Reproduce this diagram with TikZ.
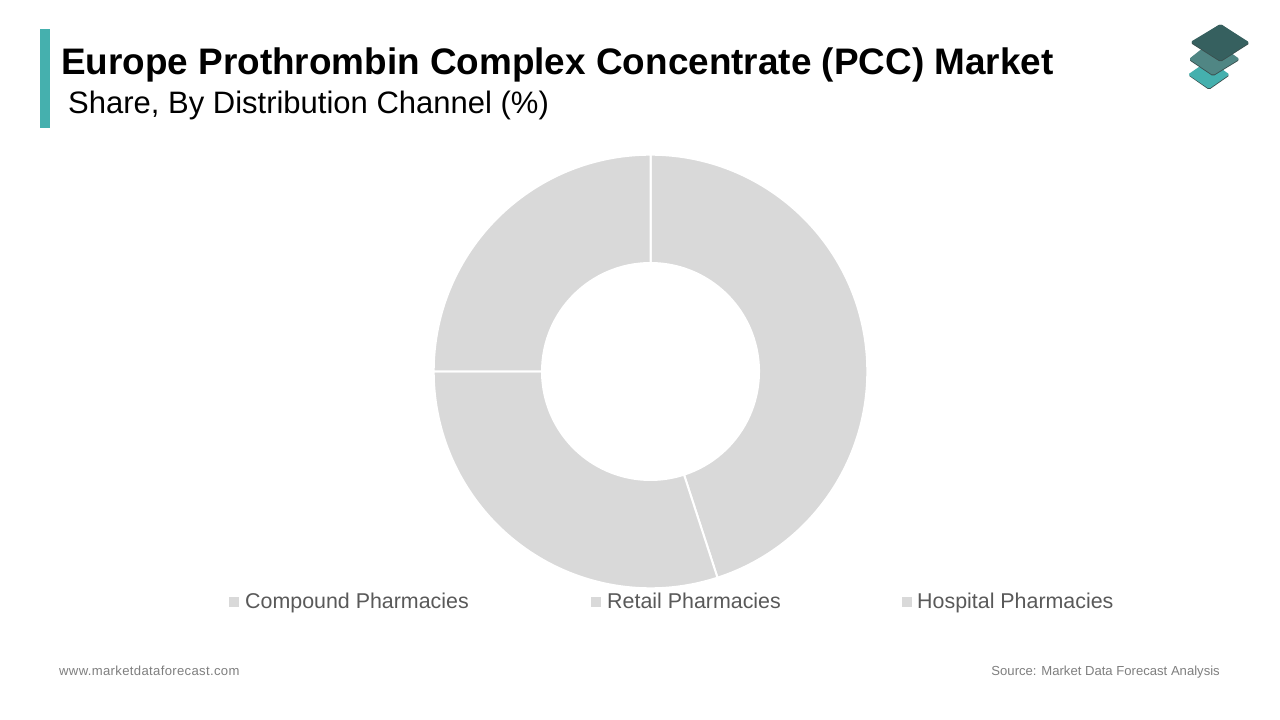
\documentclass[tikz,border=0pt]{standalone}
\usepackage{fontspec}
\setmainfont{Liberation Sans}
\definecolor{slice}{HTML}{D9D9D9}
\definecolor{teal}{HTML}{45B0AE}
\definecolor{tealmid}{HTML}{508684}
\definecolor{tealdark}{HTML}{36605F}
\definecolor{edgedark}{HTML}{3A4F4E}
\definecolor{legendtext}{HTML}{595959}
\definecolor{foottext}{HTML}{7F7F7F}
\tikzset{
  slicefill/.style={fill=slice,draw=white,line width=2pt,line join=miter},
  legendlabel/.style={anchor=base west,inner sep=0pt,text=legendtext,font=\fontsize{21.4}{24}\selectfont},
  legendkey/.style={fill=slice,draw=none,minimum size=10pt,inner sep=0pt},
  foot/.style={inner sep=0pt,text=foottext,font=\fontsize{13.1}{15}\selectfont},
  layer/.style={rounded corners=1.5pt,draw=none},
}
\begin{document}
\begin{tikzpicture}[x=1pt,y=1pt]
\useasboundingbox (0,0) rectangle (1280,720);
\fill[white] (0,0) rectangle (1280,720);
% accent bar
\fill[teal] (40,592) rectangle (50,691);
% titles
\node[anchor=base west,inner sep=0pt,font=\fontsize{36.9}{40}\bfseries\selectfont] (title) at (61,645.5) {Europe Prothrombin Complex Concentrate (PCC) Market};
\node[anchor=base west,inner sep=0pt,font=\fontsize{31}{34}\selectfont] (subtitle) at (68,606) {Share, By Distribution Channel (\%)};
% donut
\begin{scope}[shift={(650.5,348.5)}]
\fill[slicefill] (90:216.8) arc[start angle=90,end angle=-72,radius=216.8] -- (-72:108.5) arc[start angle=-72,end angle=90,radius=108.5] -- cycle;
\fill[slicefill] (-72:216.8) arc[start angle=-72,end angle=-180,radius=216.8] -- (-180:108.5) arc[start angle=-180,end angle=-72,radius=108.5] -- cycle;
\fill[slicefill] (180:216.8) arc[start angle=180,end angle=90,radius=216.8] -- (90:108.5) arc[start angle=90,end angle=180,radius=108.5] -- cycle;
\end{scope}
% legend
\node[legendkey] (k1) at (234,118) {};
\node[legendlabel] (l1) at (245,111.5) {Compound Pharmacies};
\node[legendkey] (k2) at (596,118) {};
\node[legendlabel] (l2) at (607,111.5) {Retail Pharmacies};
\node[legendkey] (k3) at (907,118) {};
\node[legendlabel] (l3) at (917,111.5) {Hospital Pharmacies};
% footer
\node[foot,anchor=base west,font=\fontsize{13.1}{15}\addfontfeature{LetterSpace=2.6}] (fl) at (59,44.5) {www.marketdataforecast.com};
\node[foot,anchor=base east] (fr) at (1220,44.5) {Source: Market Data Forecast Analysis};
% logo
\fill[layer,fill=edgedark] (1188.5,644.5) -- (1209,630.2) -- (1229.5,644.5) -- (1209,660) -- cycle;
\fill[layer,fill=teal] (1188,645.5) -- (1209,631.2) -- (1229.5,645.5) -- (1209,660) -- cycle;
\fill[layer,fill=edgedark] (1189,660) -- (1213,643.8) -- (1239.5,660) -- (1213,680) -- cycle;
\fill[layer,fill=tealmid] (1189,661) -- (1213,644.8) -- (1239.5,661) -- (1213,680) -- cycle;
\fill[layer,fill=edgedark] (1190.5,677) -- (1220.5,658) -- (1249.5,676.5) -- (1220.5,696) -- cycle;
\fill[layer,fill=tealdark] (1190.5,678) -- (1220.5,659) -- (1249.5,677.5) -- (1220.5,696) -- cycle;
\end{tikzpicture}
\end{document}
